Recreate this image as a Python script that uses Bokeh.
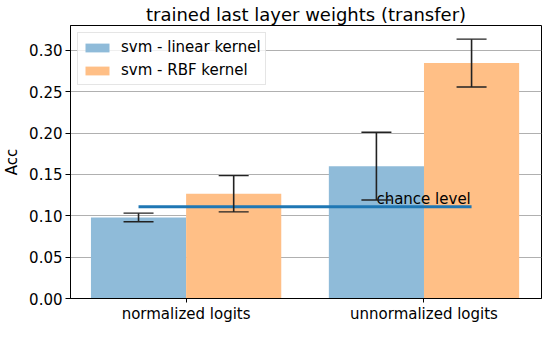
import numpy as np
from bokeh.plotting import figure
from bokeh.models import (Range1d, FixedTicker, NumeralTickFormatter, Whisker, TeeHead,
                          ColumnDataSource, Legend, LegendItem)
from bokeh.core.properties import value
from bokeh.embed import file_html
from bokeh.resources import INLINE

categories = ["normalized logits", "unnormalized logits"]
linear_acc = [0.098, 0.160]
linear_err = [0.0052, 0.041]
rbf_acc = [0.1266, 0.2846]
rbf_err = [0.0219, 0.0289]
chance_level = 0.111
y_ticks = [0.00, 0.05, 0.10, 0.15, 0.20, 0.25, 0.30]

FONT = "DejaVu Sans"
BAR_W = 0.4

x_pos = np.arange(len(categories), dtype=float)
x_lin = x_pos - BAR_W / 2
x_rbf = x_pos + BAR_W / 2

src_lin = ColumnDataSource(dict(x=x_lin, top=linear_acc,
                                upper=np.array(linear_acc) + np.array(linear_err),
                                lower=np.array(linear_acc) - np.array(linear_err)))
src_rbf = ColumnDataSource(dict(x=x_rbf, top=rbf_acc,
                                upper=np.array(rbf_acc) + np.array(rbf_err),
                                lower=np.array(rbf_acc) - np.array(rbf_err)))

p = figure(width=542, height=325, x_range=Range1d(-0.486, 1.494), y_range=Range1d(0, 0.33),
           output_backend="svg", toolbar_location=None,
           min_border_left=50, min_border_right=1, min_border_top=0, min_border_bottom=0)

p.title.text = "trained last layer weights (transfer)"
p.title.align = "center"
p.title.text_font = FONT
p.title.text_font_size = "18px"
p.title.text_font_style = "normal"
p.title.text_color = "black"
p.title.standoff = 2
p.title.offset = 0

p.background_fill_color = "white"
p.border_fill_color = "white"
p.outline_line_color = "black"
p.outline_line_alpha = 1.0
p.outline_line_width = 1

# grid
p.xgrid.visible = False
p.ygrid.grid_line_color = "#b0b0b0"
p.ygrid.grid_line_width = 1
p.ygrid.ticker = FixedTicker(ticks=y_ticks)

# axes
for ax in (p.xaxis[0], p.yaxis[0]):
    ax.axis_line_color = "black"
    ax.major_tick_line_color = "black"
    ax.major_tick_out = 5
    ax.major_tick_in = 0
    ax.minor_tick_out = 0
    ax.minor_tick_line_color = None
    ax.major_label_text_font = FONT
    ax.major_label_text_font_size = "15px"
    ax.major_label_text_color = "black"
    ax.axis_label_text_font = FONT
    ax.axis_label_text_font_size = "15px"
    ax.axis_label_text_font_style = "normal"
    ax.axis_label_text_color = "black"

p.xaxis.ticker = FixedTicker(ticks=list(x_pos))
p.xaxis.major_label_overrides = {float(i): c for i, c in zip(x_pos, categories)}
p.xaxis.major_tick_out = 4
p.xaxis.major_label_standoff = 2
p.xaxis.axis_label = None
p.xaxis.axis_label_standoff = 0

p.yaxis.ticker = FixedTicker(ticks=y_ticks)
p.yaxis.formatter = NumeralTickFormatter(format="0.00")
p.yaxis.axis_label = "Acc"
p.yaxis.major_label_standoff = 3
p.yaxis.axis_label_standoff = 5

# bars
r_lin = p.vbar(x="x", top="top", width=BAR_W, bottom=0, source=src_lin,
               fill_color="#8fbbd9", line_color=None)
r_rbf = p.vbar(x="x", top="top", width=BAR_W, bottom=0, source=src_rbf,
               fill_color="#ffbf86", line_color=None)

# error bars
for src in (src_lin, src_rbf):
    w = Whisker(source=src, base="x", upper="upper", lower="lower", dimension="height",
                line_color="#222222", line_width=1.6,
                upper_head=TeeHead(size=30, line_color="#222222", line_width=1.4),
                lower_head=TeeHead(size=30, line_color="#222222", line_width=1.4),
                level="glyph")
    p.add_layout(w)

# chance level
p.line(x=[x_pos[0] - BAR_W / 2, x_pos[-1] + BAR_W / 2], y=[chance_level, chance_level],
       line_color="#1f77b4", line_width=3)
p.text(x=[x_pos[-1] - BAR_W / 2], y=[0.12], text=["chance level"],
       text_font=value(FONT), text_font_size="15px", text_color="black",
       text_align="left", text_baseline="alphabetic")

legend = Legend(items=[LegendItem(label="svm - linear kernel", renderers=[r_lin]),
                       LegendItem(label="svm - RBF kernel", renderers=[r_rbf])],
                location="top_left", margin=7, padding=4, spacing=3,
                glyph_width=30, glyph_height=11, label_standoff=9, label_height=20,
                label_text_font=FONT, label_text_font_size="15px", label_text_color="black",
                border_line_color="#cccccc", border_line_width=1,
                background_fill_color="white", background_fill_alpha=0.8)
p.add_layout(legend)

open("out.html", "w").write(file_html(p, INLINE))
